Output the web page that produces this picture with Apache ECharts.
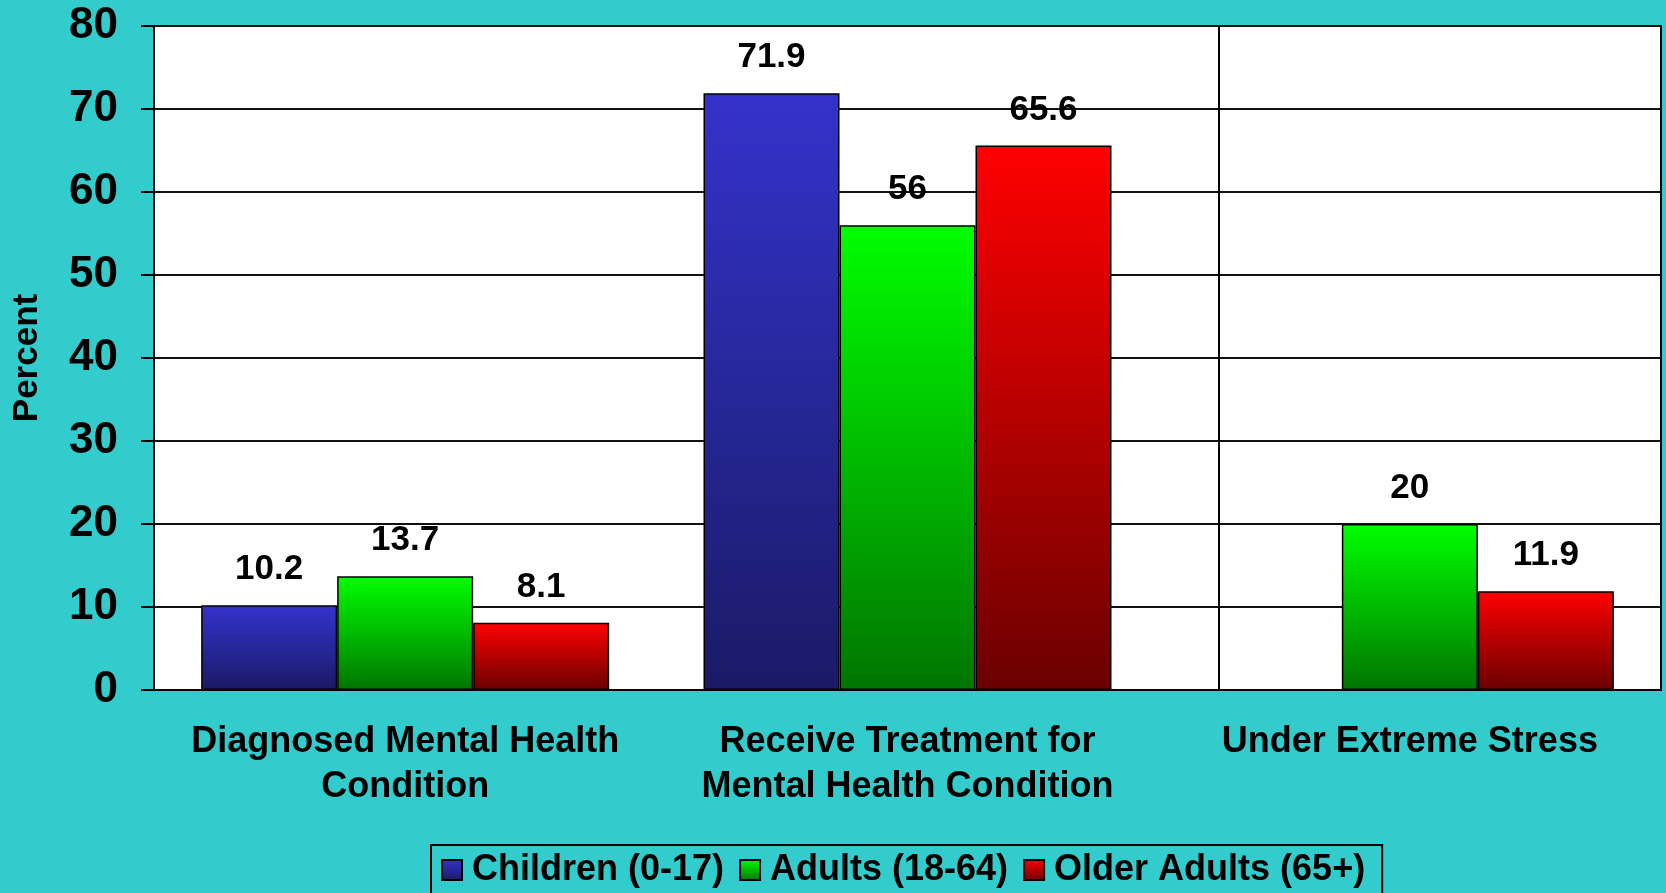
<!DOCTYPE html>
<html lang="en">

<head>
  <meta charset="utf-8">
  <title>Mental Health by Age Group</title>
  <style>
    * {
      margin: 0;
      padding: 0;
    }

    #chart-container {
      position: relative;
      width: 1666px;
      height: 893px;
      overflow: hidden;
      background: #33cccc;
    }
  </style>
</head>

<body>
  <div id="chart-container"></div>
  <script src="https://fastly.jsdelivr.net/npm/echarts@6/dist/echarts.min.js"></script>
  <script>
    var dom = document.getElementById('chart-container');
    var myChart = echarts.init(dom, null, {
      renderer: 'canvas',
      useDirtyRect: false
    });

    // data
    const categories = [
      'Diagnosed Mental Health\nCondition',
      'Receive Treatment for\nMental Health Condition',
      'Under Extreme Stress'
    ];
    const children = [10.2, 71.9, null];
    const adults = [13.7, 56, 20];
    const olderAdults = [8.1, 65.6, 11.9];
    const seriesNames = ['Children (0-17)', 'Adults (18-64)', 'Older Adults (65+)'];
    // stray divider line in the source, in category units from the left edge
    const dividerAt = [2.122];

    const font = 'Liberation Sans, Arial, sans-serif';

    function grad(top, bottom) {
      return new echarts.graphic.LinearGradient(0, 0, 0, 1, [
        { offset: 0, color: top },
        { offset: 1, color: bottom }
      ]);
    }

    function barSeries(name, data, top, bottom) {
      return {
        name: name,
        type: 'bar',
        data: data,
        barWidth: 136,
        barGap: '0%',
        itemStyle: {
          color: grad(top, bottom),
          borderColor: '#000',
          borderWidth: 1.5
        },
        label: {
          show: true,
          position: 'top',
          distance: 18,
          color: '#000',
          fontFamily: font,
          fontWeight: 'bold',
          fontSize: 35
        }
      };
    }

    var option = {
      backgroundColor: '#33cccc',
      animation: false,
      grid: {
        left: 154,
        right: 5,
        top: 26,
        bottom: 203,
        show: true,
        backgroundColor: '#fff',
        borderColor: '#000',
        borderWidth: 2
      },
      legend: {
        data: seriesNames,
        left: 431,
        top: 845,
        icon: 'rect',
        itemWidth: 20,
        itemHeight: 20,
        itemGap: 15,
        padding: [7, 17, 40, 10],
        borderColor: '#000',
        borderWidth: 2,
        textStyle: {
          color: '#000',
          fontFamily: font,
          fontWeight: 'bold',
          fontSize: 36,
          lineHeight: 20,
          padding: [0, 0, 0, 5]
        }
      },
      xAxis: [
        {
          type: 'category',
          data: categories,
          axisLine: { lineStyle: { color: '#000', width: 2 } },
          axisTick: { show: false },
          axisLabel: {
            interval: 0,
            margin: 30,
            color: '#000',
            fontFamily: font,
            fontWeight: 'bold',
            fontSize: 36,
            lineHeight: 45
          }
        },
        {
          type: 'value',
          min: 0,
          max: 3,
          show: false
        }
      ],
      yAxis: {
        type: 'value',
        min: 0,
        max: 80,
        interval: 10,
        name: 'Percent',
        nameLocation: 'middle',
        nameGap: 109,
        nameTextStyle: {
          color: '#000',
          fontFamily: font,
          fontWeight: 'bold',
          fontSize: 35
        },
        axisLine: { show: true, lineStyle: { color: '#000', width: 2 } },
        axisTick: { show: true, length: 13, lineStyle: { color: '#000', width: 2 } },
        axisLabel: {
          margin: 36,
          color: '#000',
          fontFamily: font,
          fontWeight: 'bold',
          fontSize: 44
        },
        splitLine: { lineStyle: { color: '#111', width: 2 } }
      },
      series: [
        barSeries(seriesNames[0], children, '#3333cc', '#1a1a66'),
        barSeries(seriesNames[1], adults, '#00ff00', '#007500'),
        barSeries(seriesNames[2], olderAdults, '#ff0000', '#6a0000'),
        {
          type: 'line',
          xAxisIndex: 1,
          data: [],
          markLine: {
            silent: true,
            symbol: 'none',
            label: { show: false },
            lineStyle: { color: '#000', width: 2, type: 'solid' },
            data: dividerAt.map(function (v) { return { xAxis: v }; })
          }
        }
      ]
    };

    myChart.setOption(option);

    window.addEventListener('resize', myChart.resize);
  </script>
</body>

</html>
